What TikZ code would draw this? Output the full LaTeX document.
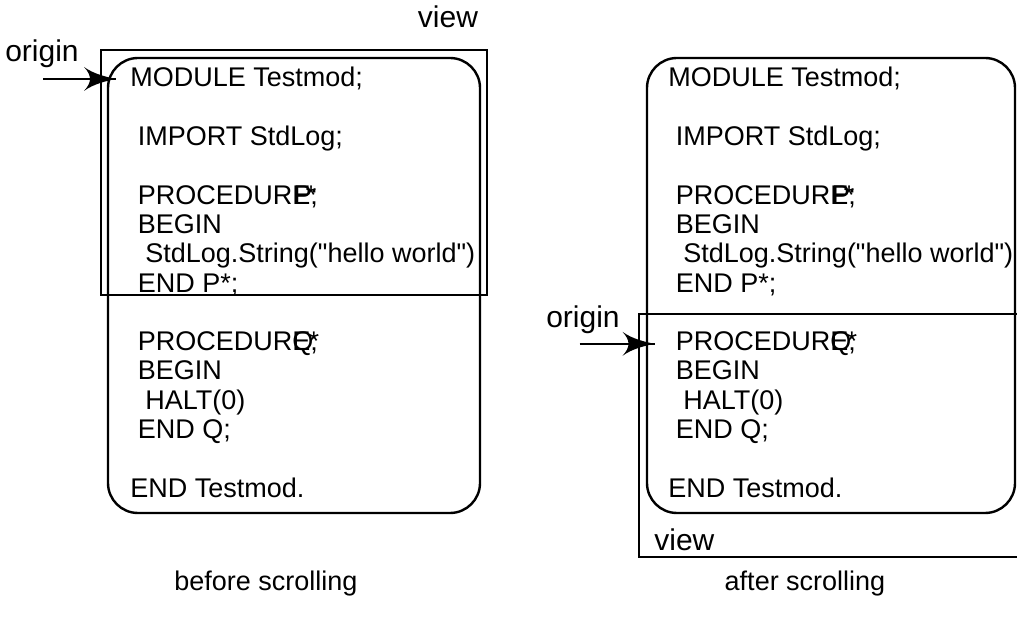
\documentclass[tikz,border=0pt]{standalone}
\usepackage{fontspec}
\setmainfont{Liberation Sans}
\newfontfamily\codefont{Liberation Sans}
\usetikzlibrary{arrows}
\usetikzlibrary{decorations.markings}
\usetikzlibrary{positioning}
\tikzset{pointer/.style = {line width=1.2pt,
                           decoration={markings,
                                       mark=at position 1 with {\arrow[scale=2.5]{latex'}}},
                           postaction={decorate}}}
\tikzset{codebox/.style = {line width=1.2pt, rounded corners=15pt}}
\tikzset{viewbox/.style = {line width=1.2pt}}
\tikzset{codeline/.style = {anchor=base west, inner sep=0pt, font=\codefont\fontsize{13.5}{15}\selectfont}}
\tikzset{plaintext/.style = {inner sep=0pt, font=\fontsize{13.5}{15}\selectfont}}
\tikzset{bigtext/.style = {inner sep=0pt, font=\fontsize{15}{17}\selectfont}}

% overprinted procedure heading, as in the scanned listing
\newcommand{\overprint}[3]{PROCEDUR\rlap{\kern#1em #2}\rlap{\kern#3em *}E;}

% the module listing, #1 = name prefix, #2 = left x
\newcommand{\listing}[2]{%
  \node[codeline] (#1mod)  at (#2,      87.0) {MODULE Testmod;};
  \node[codeline] (#1imp)  at (#2+7.5, 145.6) {IMPORT StdLog;};
  \node[codeline] (#1pp)   at (#2+7.5, 204.2) {\overprint{0.05}{P}{0.5}};
  \node[codeline] (#1pb)   at (#2+7.5, 233.5) {BEGIN};
  \node[codeline] (#1pst)  at (#2+15,  262.8) {StdLog.String("hello world")};
  \node[codeline] (#1pe)   at (#2+7.5, 292.1) {END P*;};
  \node[codeline] (#1qp)   at (#2+7.5, 350.7) {\overprint{0.0}{Q}{0.6}};
  \node[codeline] (#1qb)   at (#2+7.5, 380.0) {BEGIN};
  \node[codeline] (#1qh)   at (#2+15,  409.3) {HALT(0)};
  \node[codeline] (#1qe)   at (#2+7.5, 438.6) {END Q;};
  \node[codeline] (#1end)  at (#2,     497.2) {END Testmod.};
}

\begin{document}
\begin{tikzpicture}[x=0.5pt, y=-0.5pt]
  \useasboundingbox (0,0) rectangle (1017,625);

  % before scrolling
  \draw[codebox] (108,58) rectangle (480,513);
  \draw[viewbox] (101,50) rectangle (487,295);
  \listing{a}{130}
  \node[bigtext, anchor=base] (viewa) at (448,28) {view};
  \node[bigtext, anchor=base] (origina) at (42,62) {origin};
  \coordinate (taila) at ([xshift=-43.5pt]amod.west);
  \draw[pointer] (taila) -- ([xshift=-7pt]amod.west);
  \node[plaintext, anchor=base] (capa) at (266,590) {before scrolling};

  % after scrolling
  \draw[codebox] (647,58) rectangle (1015,513);
  \draw[viewbox] (639,314) rectangle (1040,557);
  \listing{b}{668}
  \node[bigtext, anchor=base west] (viewb) at (654,550) {view};
  \node[bigtext, anchor=base] (originb) at (583,328) {origin};
  \coordinate (tailb) at ([xshift=-48pt]bqp.west);
  \draw[pointer] (tailb) -- ([xshift=-10.5pt]bqp.west);
  \node[plaintext, anchor=base] (capb) at (805,590) {after scrolling};
\end{tikzpicture}
\end{document}
